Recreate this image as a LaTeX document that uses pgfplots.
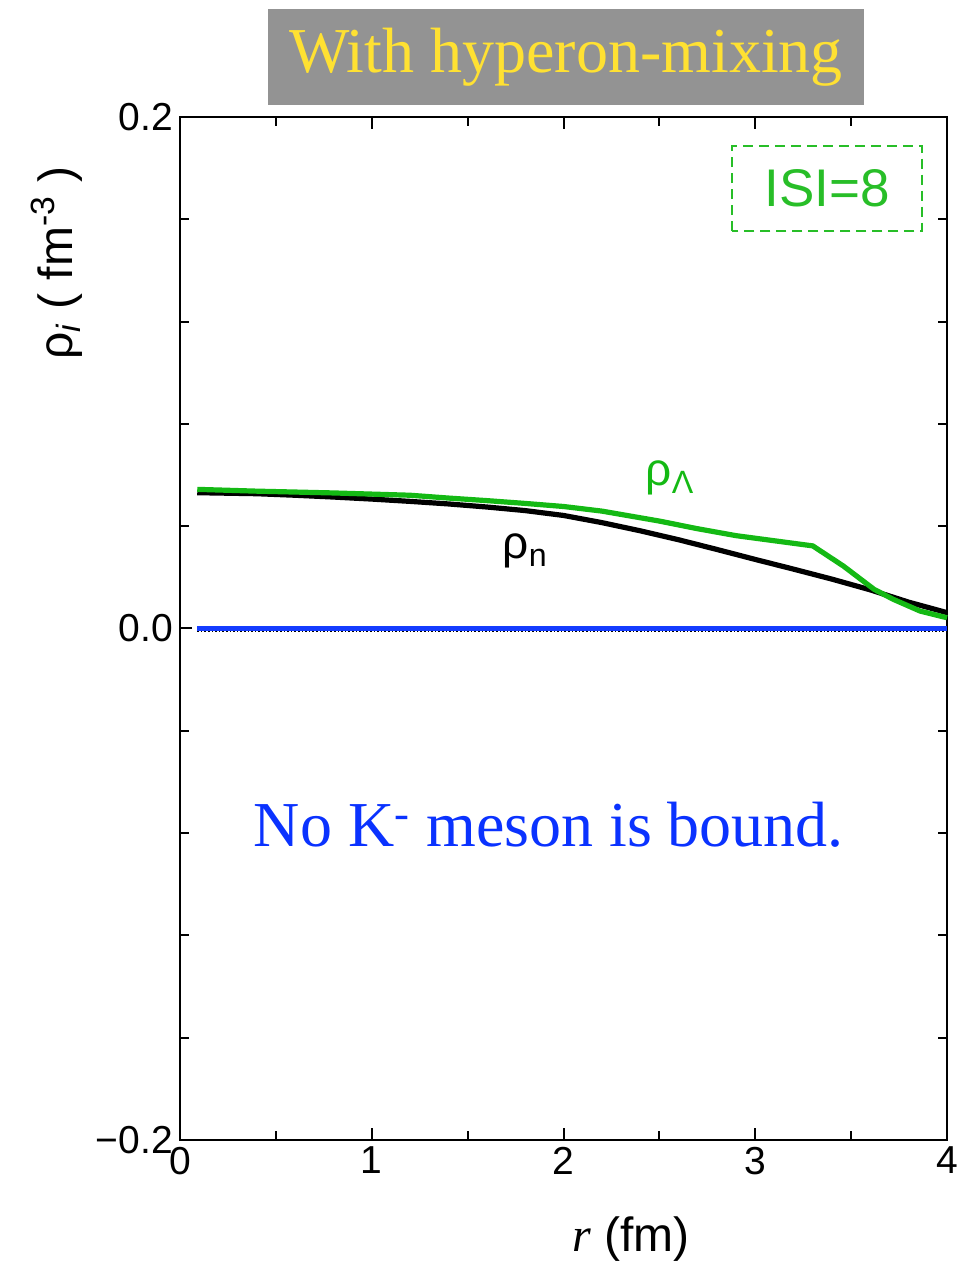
\documentclass[border=0pt]{standalone}
\usepackage{fontspec}
\setmainfont{Liberation Sans}
\newfontfamily\tnr{Liberation Serif}
\usepackage{pgfplots}
\pgfplotsset{compat=1.18}
\definecolor{lgreen}{RGB}{20,185,20}
\definecolor{bxgreen}{RGB}{40,190,40}
\definecolor{tblue}{RGB}{10,50,255}
\definecolor{lblue}{RGB}{20,60,255}
\definecolor{tgray}{RGB}{147,147,147}
\definecolor{tyellow}{RGB}{255,225,50}
\begin{document}
\begin{tikzpicture}
\begin{axis}[
  scale only axis,
  width=383.5pt, height=511.5pt,
  xmin=0, xmax=4, ymin=-0.2, ymax=0.2,
  clip=false,
  axis line style={line width=1pt},
  xtick={0,1,2,3,4}, xticklabels={0,1,2,3,4},
  minor xtick={0.5,1.5,2.5,3.5},
  ytick={-0.2,0,0.2}, yticklabels={−0.2,0.0,0.2},
  minor ytick={-0.16,-0.12,-0.08,-0.04,0.04,0.08,0.12,0.16},
  major tick length=6pt, minor tick length=4.5pt,
  every tick/.style={line width=1pt, black},
  tick align=inside,
  xtick pos=both, ytick pos=both,
  xticklabel pos=lower, yticklabel pos=left,
  ticklabel style={font=\fontsize{19.5}{20}\selectfont},
  /pgf/number format/assume math mode=true,
]
\draw[black, line width=0.8pt, densely dotted] (axis cs:0.09,-0.0009) -- (axis cs:4,-0.0009);
\addplot[lblue, line width=2.6pt] coordinates {(0.09,0) (4,0)};
\addplot[black, line width=2.6pt] coordinates {
(0.09,0.0531) (0.4,0.0527) (0.6,0.0521) (0.8,0.0514) (1.0,0.0506)
(1.2,0.0497) (1.4,0.0487) (1.6,0.0475) (1.8,0.0461) (2.0,0.0442)
(2.2,0.0414) (2.4,0.0382) (2.6,0.0347) (2.8,0.0309) (3.0,0.0270)
(3.2,0.0232) (3.4,0.0193) (3.6,0.0151) (3.8,0.0103) (4.0,0.0062)};
\addplot[lgreen, line width=2.6pt] coordinates {
(0.09,0.0544) (0.4,0.0537) (0.8,0.0530) (1.2,0.0521) (1.4,0.0510)
(1.6,0.0500) (1.8,0.0489) (2.0,0.0477) (2.2,0.0459) (2.5,0.0420)
(2.7,0.0390) (2.9,0.0363) (3.1,0.0343) (3.3,0.0323) (3.46,0.0244) (3.62,0.0153)
(3.72,0.0114) (3.86,0.0068) (4.0,0.0042)};
\node[text=lgreen, font=\fontsize{23}{24}\selectfont] at (axis cs:2.555,0.0588) {ρ\textsubscript{Λ}};
\node[text=black, font=\fontsize{23}{24}\selectfont] at (axis cs:1.80,0.0303) {ρ\textsubscript{n}};
\draw[bxgreen, line width=1pt, dashed, dash pattern=on 5pt off 3pt] (axis cs:2.879,0.1554) rectangle (axis cs:3.870,0.1887);
\node[text=bxgreen, font=\fontsize{26.5}{27}\selectfont] at (axis cs:3.374,0.1722) {ISI=8};
\node[text=tblue, font=\tnr\fontsize{32}{33}\selectfont, anchor=base] at (axis cs:1.924,-0.0853) {No K\textsuperscript{-} meson is bound.};
\node[rotate=90, font=\fontsize{24}{25}\selectfont] at (axis cs:-0.641,0.1429) {ρ\textsubscript{\textit{i}} (~fm\textsuperscript{-3}~)};
\node[font=\fontsize{24}{25}\selectfont] at (axis cs:2.352,-0.2387) {\textit{\tnr r} (fm)};
\end{axis}
\fill[tgray] (44pt,517.5pt) rectangle (342pt,565.5pt);
\node[text=tyellow, font=\tnr\fontsize{32}{33}\selectfont] at (193pt,541.5pt) {With hyperon-mixing};
\pgfresetboundingbox
\useasboundingbox (-90pt,-63.5pt) rectangle (389pt,570pt);
\end{tikzpicture}
\end{document}
